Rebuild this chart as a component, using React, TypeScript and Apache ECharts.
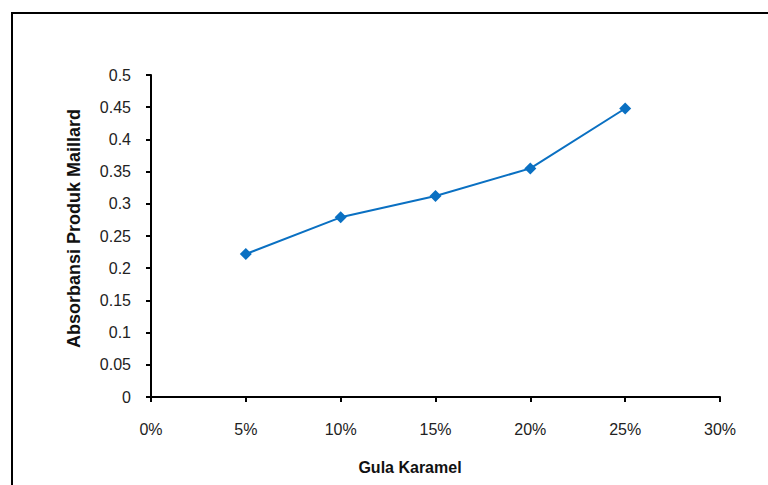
import React, { useEffect, useRef } from "react";
import * as echarts from "echarts";

const xValues = [5, 10, 15, 20, 25];
const absorbance = [0.222, 0.279, 0.312, 0.355, 0.448];
const xTitle = "Gula Karamel";
const yTitle = "Absorbansi Produk Maillard";

export default function App() {
  const ref = useRef<HTMLDivElement>(null);
  useEffect(() => {
    if (!ref.current) return;
    const chart = echarts.init(ref.current, undefined, { renderer: "svg" });
    const font = "Arial, 'Liberation Sans', sans-serif";
    chart.setOption({
      animation: false,
      backgroundColor: "#ffffff",
      grid: { left: 151, right: 48, top: 75, bottom: 88, containLabel: false },
      xAxis: {
        type: "value",
        min: 0,
        max: 30,
        interval: 5,
        splitLine: { show: false },
        axisLine: { show: true, onZero: false, lineStyle: { color: "#000", width: 2 } },
        axisTick: { show: true, length: 5, lineStyle: { color: "#000", width: 2 } },
        axisLabel: {
          formatter: (v: number) => v + "%",
          color: "#222",
          fontSize: 16,
          fontFamily: font,
          margin: 24,
        },
      },
      yAxis: {
        type: "value",
        min: 0,
        max: 0.5,
        interval: 0.05,
        splitLine: { show: false },
        axisLine: { show: true, lineStyle: { color: "#000", width: 2 } },
        axisTick: { show: true, length: 5, lineStyle: { color: "#000", width: 2 } },
        axisLabel: {
          formatter: (v: number) => String(parseFloat(v.toFixed(2))),
          color: "#222",
          fontSize: 16,
          fontFamily: font,
          margin: 20,
        },
      },
      series: [
        {
          type: "line",
          data: xValues.map((x, i) => [x, absorbance[i]]),
          symbol: "diamond",
          symbolSize: 12,
          lineStyle: { color: "#0A70C2", width: 2 },
          itemStyle: { color: "#0A70C2" },
        },
      ],
      graphic: [
        {
          type: "rect",
          shape: { x: 12, y: 13, width: 800, height: 500 },
          style: { fill: "none", stroke: "#000", lineWidth: 2 },
          silent: true,
        },
        {
          type: "text",
          x: 410,
          y: 467,
          style: {
            text: xTitle,
            font: `bold 16px ${font}`,
            fill: "#111",
            textAlign: "center",
            textVerticalAlign: "middle",
          },
        },
        {
          type: "text",
          x: 73.5,
          y: 228.5,
          rotation: Math.PI / 2,
          style: {
            text: yTitle,
            font: `bold 18px ${font}`,
            fill: "#111",
            textAlign: "center",
            textVerticalAlign: "middle",
          },
        },
      ],
    });
    return () => chart.dispose();
  }, []);
  return (
    <div
      ref={ref}
      style={{ position: "absolute", left: 0, top: 0, width: 768, height: 485 }}
    />
  );
}
